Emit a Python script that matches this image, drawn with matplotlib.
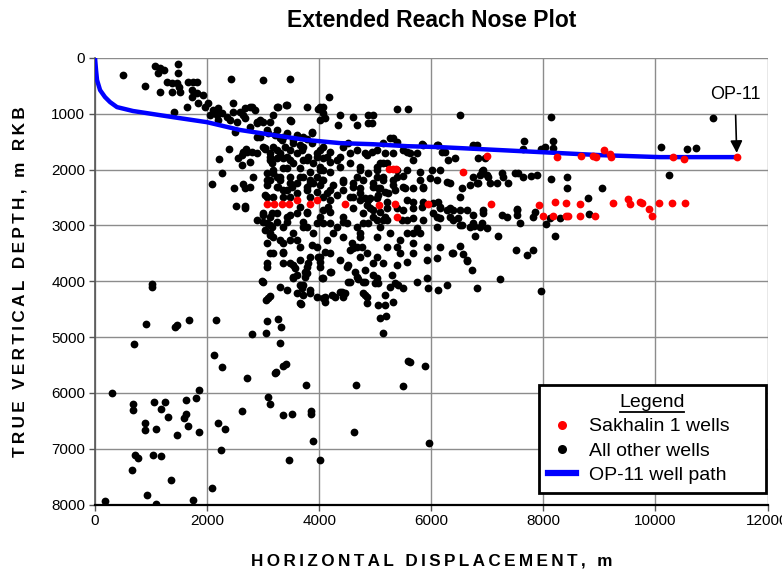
import matplotlib
matplotlib.use("Agg")
import matplotlib.pyplot as plt
from matplotlib.lines import Line2D
import numpy as np

plt.rcParams['font.family'] = ['Liberation Sans', 'DejaVu Sans']

# ---- OP-11 well path (horizontal displacement m, true vertical depth m) ----
op11_x = [0, 18, 36, 90, 178, 268, 392, 678, 1392, 1998, 2587, 3176, 3782,
          4371, 4960, 5566, 6155, 6868, 7939, 9009, 10080, 11453]
op11_y = [0, 215, 395, 575, 700, 790, 880, 950, 1060, 1150, 1290, 1380, 1470,
          1525, 1545, 1580, 1597, 1632, 1686, 1740, 1776, 1776]

# ---- Sakhalin 1 wells ----
sakhalin_upper = [(5245, 1990), (5316, 1990), (5370, 1990), (6565, 2045), (6995, 1760),
                  (8240, 1775), (8670, 1760), (8885, 1760), (8940, 1775), (9080, 1650),
                  (9190, 1720), (9205, 1775), (10310, 1775), (10510, 1810), (11450, 1775)]
sakhalin_lower = [(3070, 2620), (3195, 2620), (3335, 2620), (3460, 2620), (3605, 2550),
                  (3835, 2620), (3960, 2550), (4460, 2620), (5065, 2640), (5350, 2620),
                  (5390, 2850), (5940, 2620), (7065, 2620), (7920, 2640), (7995, 2835),
                  (8170, 2835), (8205, 2585), (8405, 2600), (8405, 2835), (8440, 2835),
                  (8650, 2620), (8650, 2835), (8920, 2835), (9240, 2600), (9510, 2530),
                  (9545, 2620), (9725, 2585), (9760, 2600), (9885, 2710), (9935, 2835),
                  (10060, 2600), (10295, 2600), (10525, 2600)]

# ---- All other wells ----
shallow_band = [
    (500, 305), (892, 502), (1070, 144), (1160, 179), (1124, 269), (1231, 215), (1481, 108),
    (1481, 269), (1284, 431), (1374, 448), (1463, 448), (1499, 520), (1160, 610), (1374, 610),
    (1516, 610), (1659, 431), (1748, 431), (1820, 431), (1730, 574), (1820, 628), (1927, 664),
    (1730, 700), (1838, 807), (1641, 879), (1962, 879), (2016, 807), (2105, 933), (2194, 897),
    (2266, 987), (2176, 1023), (2052, 1023), (2194, 1112), (2355, 1058), (2462, 807),
    (2462, 969), (2587, 969), (2676, 897), (2408, 1112), (2533, 1148), (2676, 1076),
    (1409, 969), (2426, 377), (2997, 395), (3479, 377), (2801, 879), (2854, 933), (2765, 1238),
    (2890, 1148), (2997, 1148), (3122, 1148), (3176, 1023), (3265, 879), (3407, 843),
    (3497, 1130), (3782, 879), (3978, 915), (4068, 879), (4175, 700), (4014, 1112),
    (4103, 1076), (2498, 1328), (2391, 1632), (2212, 1812), (2266, 2063), (2087, 2260),
    (2480, 2332), (2640, 2260), (2765, 2314), (2515, 2655), (2676, 2655), (2551, 1794),
    (2640, 1686), (2694, 1632), (2801, 1686), (2765, 879), (2640, 1023), (2944, 1112),
    (3425, 843), (3247, 879), (4014, 879), (3479, 1112), (4068, 987), (2890, 1166),
    (4371, 1023), (4335, 1202), (4674, 1202), (4603, 1058), (4870, 1023), (4870, 1166),
    (4960, 1023), (5388, 915), (5584, 915), (6512, 1023), (4942, 1166), (8135, 1058),
    (11025, 1076),
]

main_cluster = [
    (3033, 1632), (2890, 1417), (3086, 1345), (3247, 1292), (3300, 1435), (3122, 1776),
    (3158, 1884), (3247, 1650), (3390, 1597), (3479, 1650), (3532, 1525), (3693, 1650),
    (3871, 1328), (3782, 1453), (3604, 1381), (3711, 1417), (3800, 1776), (3960, 1776),
    (4068, 1597), (3479, 1830), (3657, 1973), (3354, 1973), (3176, 2063), (3122, 2189),
    (3247, 2135), (3479, 2135), (3604, 2243), (3711, 2135), (3836, 2243), (3960, 2135),
    (4068, 2009), (4014, 2278), (3068, 2278), (3265, 2314), (3514, 2314), (3068, 2494),
    (3479, 2494), (3836, 2494), (4068, 2494), (2997, 2817), (3158, 2781), (3479, 2817),
    (3657, 2673), (3782, 2781), (4068, 2727), (4157, 2673), (3068, 1292), (3354, 1417),
    (3871, 1345), (2944, 1417), (3176, 1597), (3033, 1615), (2712, 1686), (2622, 1740),
    (3300, 1704), (3711, 1597), (3871, 1525), (4014, 1650), (4192, 1686), (3122, 1830),
    (3354, 1794), (3532, 1884), (3711, 1830), (3889, 1884), (4068, 1794), (4192, 1866),
    (3176, 2009), (3425, 1973), (3836, 2045), (4014, 2009), (4192, 2045), (3068, 2189),
    (3300, 2189), (3479, 2243), (3889, 2243), (4068, 2189), (3354, 2368), (3604, 2422),
    (3782, 2368), (4192, 2368), (3176, 2494), (4192, 2547), (2676, 2332), (2622, 1920),
    (2765, 1866), (2676, 2691), (3211, 1381), (3336, 1471), (3425, 1345), (3532, 1471),
    (3657, 1561), (3960, 1704), (4139, 1776), (4317, 1830), (4424, 1597), (4549, 1704),
    (4674, 1650), (4817, 1704), (4942, 1686), (2997, 1597), (3122, 1704), (3247, 1794),
    (3425, 1776), (3604, 1704), (3782, 1830), (4014, 1955), (4371, 1955), (4549, 1884),
    (4728, 2009), (4870, 2063), (5031, 2009), (3068, 2063), (3300, 2135), (3657, 2135),
    (3836, 2189), (4050, 2189), (4246, 2278), (4424, 2225), (4603, 2314), (4781, 2189),
    (4960, 2314), (3247, 2314), (3425, 2368), (3782, 2314), (3960, 2404), (4139, 2422),
    (4317, 2458), (4549, 2494), (4728, 2422), (4906, 2512), (5049, 2458), (3033, 2458),
    (3354, 2494), (2997, 2781), (3122, 2852), (3247, 2781), (3425, 2852), (3604, 2781),
    (3782, 2763), (4014, 2852), (4192, 2763), (4424, 2852), (4603, 2691), (4781, 2781),
    (4960, 2852), (3122, 2996), (3354, 3032), (3711, 3032), (4068, 2960), (4496, 2960),
    (4674, 3032), (4870, 2960), (4853, 2637), (4728, 2547), (2890, 1704), (2819, 2135),
    (2890, 2906), (5316, 1435), (5388, 1507), (5138, 1525), (5834, 1543), (6101, 1561),
    (4514, 1525), (5031, 1650), (5316, 1704), (5566, 1686), (5744, 1704), (5673, 1830),
    (6190, 1686), (6298, 1830), (6422, 1794), (4853, 1740), (4371, 1776), (4728, 1955),
    (5084, 1884), (5209, 1884), (5138, 2135), (5031, 2135), (4960, 2243), (5084, 2332),
    (5227, 2422), (5388, 2135), (5495, 2117), (5316, 2278), (5495, 2314), (5673, 2332),
    (5852, 2332), (5798, 2045), (6012, 2009), (6155, 2009), (6101, 2189), (6280, 2225),
    (6333, 2243), (6512, 2494), (6690, 2278), (6744, 2135), (4728, 2332), (4817, 2512),
    (4870, 2547), (4603, 2494), (4603, 2243), (4424, 2368), (4424, 2189), (4674, 2135),
    (4906, 2691), (5209, 2691), (5388, 2691), (5495, 2727), (5673, 2691), (5834, 2673),
    (6030, 2601), (6155, 2673), (6280, 2727), (6387, 2727), (6512, 2727), (6636, 2727),
    (6744, 2960), (6512, 2996), (6387, 2906), (6155, 2870), (6030, 2781), (5566, 2906),
    (5566, 3140), (5673, 3140), (5798, 3140), (5673, 3319), (5441, 3265), (5388, 3391),
    (5263, 3140), (5138, 2906), (5084, 3032), (5031, 3211), (5209, 3391), (5441, 3498),
    (5673, 3498), (5923, 3391), (6155, 3391), (6387, 3498), (6636, 3624), (6101, 3588),
    (5923, 3624), (5566, 3660), (5138, 3678), (5031, 3570), (5388, 3714), (4728, 3211),
    (4674, 3391), (4853, 3498), (4728, 3570), (4496, 3749), (4371, 3624), (4549, 3444),
    (4424, 3211), (4246, 3140), (4317, 3032), (3068, 2960), (3122, 3140), (3068, 3319),
    (3176, 3211), (3300, 3265), (3479, 3265), (3532, 3140), (3657, 3391), (3782, 3032),
    (3889, 3140), (3960, 3391), (4014, 3570), (3836, 3570), (3657, 3624), (3354, 3498),
    (3176, 3498), (3068, 3678), (3354, 3678), (3532, 3714), (3782, 3749), (4014, 3749),
    (4139, 3265), (4103, 3480), (3158, 3032), (5263, 1435), (5174, 1704), (5495, 1650),
    (5620, 1704), (5852, 1561), (6119, 1561), (6244, 1686), (6744, 1561), (6815, 1561),
    (6833, 1794), (5031, 1955), (5138, 1884), (5388, 2009), (5566, 2009), (5138, 2189),
    (5316, 2189), (5798, 2189), (5977, 2153), (6922, 2009), (6993, 2099), (7047, 2243),
    (6815, 2243), (5049, 2332), (5174, 2404), (5352, 2368), (5530, 2332), (5852, 2314),
    (6547, 2332), (5031, 2512), (5209, 2583), (5566, 2547), (5673, 2583), (5852, 2583),
    (6119, 2583), (6155, 2691), (6333, 2691), (6744, 2817), (6922, 2781), (6101, 2852),
    (6333, 2852), (6476, 2870), (4960, 2727), (5084, 2763), (5174, 2852), (5031, 2906),
    (5209, 2906), (5477, 2906), (5673, 2870), (5852, 2906), (5744, 3050), (6101, 3032),
    (6547, 2996), (6690, 3032), (6868, 3032), (6993, 3050), (2997, 2942), (3247, 2942),
    (3425, 2942), (3711, 2942), (3960, 2960), (4192, 2960), (4424, 2942), (4781, 2960),
    (3033, 3086), (3122, 3175), (3354, 3319), (3604, 3265), (3871, 3355), (4192, 3498),
    (3978, 3570), (4014, 3660), (3354, 3480), (3122, 3498), (3068, 3749), (3479, 3678),
    (3568, 3767), (3800, 3678), (3746, 3839), (3532, 3947), (4192, 3839), (4050, 3947),
    (4585, 3319), (4728, 3140), (4763, 3391), (4603, 3409), (4514, 3714), (4638, 3839),
    (4817, 3803), (4960, 3678), (5031, 3947), (4781, 4019), (4549, 4019),
]

east_wells = [
    (7653, 1489), (7636, 1632), (7957, 1632), (8028, 1597), (8171, 1489), (8171, 1615),
    (6744, 1579), (6958, 1794), (6904, 2027), (6868, 2099), (7011, 2135), (6833, 2243),
    (7172, 2243), (7261, 2063), (7279, 2135), (7368, 2243), (7493, 2063), (7546, 2063),
    (7636, 2135), (7778, 2117), (7885, 2099), (8135, 2171), (8420, 2135), (8420, 2332),
    (9045, 2332), (8795, 2512), (8813, 2799), (6922, 2727), (7261, 2817), (7350, 2852),
    (7529, 2727), (7529, 2817), (7582, 2960), (7814, 2852), (7850, 2763), (8046, 2978),
    (8296, 2870), (8206, 3193), (7190, 3193), (6779, 3193), (6761, 3014), (6904, 2960),
    (7511, 3444), (7707, 3534), (7814, 3444), (6726, 3803), (6636, 3642), (6565, 3516),
    (6512, 3373), (6369, 3498), (7529, 2709), (8117, 2870), (7225, 3965), (7957, 4180),
    (10097, 1597), (10561, 1632), (10722, 1615), (10240, 2099),
]

deep_wells = [
    (2997, 4019), (3300, 4108), (3425, 4162), (3532, 3929), (3604, 3893), (3711, 4072),
    (3746, 3929), (3693, 4126), (3604, 4216), (3711, 4252), (3836, 4216), (3675, 4413),
    (3782, 3857), (3960, 4288), (4103, 4288), (4103, 4377), (4068, 3947), (4210, 3839),
    (4282, 4288), (4406, 4198), (4460, 4216), (4514, 4019), (4674, 3929), (4692, 3965),
    (4817, 4019), (4781, 4216), (4853, 4288), (4853, 4395), (4960, 3893), (4995, 4037),
    (5049, 4431), (5084, 4664), (5174, 4431), (5174, 4252), (5191, 4629), (5138, 4934),
    (5298, 3893), (5263, 4108), (5352, 4037), (5316, 4377), (5405, 4072), (5495, 4126),
    (5744, 4019), (5923, 3947), (5941, 4126), (6119, 4162), (6280, 4072), (6815, 4126),
    (3068, 4718), (3051, 4934), (3265, 4682), (3318, 4826), (3300, 5113), (3122, 4270),
    (3051, 4341), (3211, 5651), (3354, 5526), (3407, 5490), (3764, 5866), (4656, 5866),
    (5495, 5884), (5584, 5436), (5620, 5454), (5887, 5526), (3086, 6082), (2979, 4001),
    (3657, 4072), (3836, 4162), (4068, 4306), (4228, 4252), (4371, 4198), (4424, 4288),
    (4817, 4252), (3086, 4306), (3657, 4395), (5049, 4037),
    (1017, 4054), (1017, 4108), (910, 4772), (1427, 4826), (1463, 4790), (1677, 4700),
    (2159, 4700), (696, 5131), (2801, 4951), (2123, 5328), (2266, 5543), (2712, 5741),
    (3229, 5633), (303, 6010), (678, 6207), (678, 6315), (1053, 6171), (1249, 6171),
    (1177, 6297), (1302, 6423), (1623, 6135), (1802, 6100), (1855, 5956), (1623, 6387),
    (1588, 6441), (892, 6548), (892, 6656), (1088, 6638), (1659, 6602), (1855, 6692),
    (1463, 6763), (2194, 6548), (2319, 6638), (2622, 6333), (3122, 6207), (3354, 6405),
    (3514, 6387), (3853, 6333), (3853, 6387), (3889, 6853), (714, 7104), (767, 7158),
    (1035, 7104), (1177, 7122), (2248, 7032), (660, 7373), (1356, 7553), (3461, 7194),
    (4014, 7194), (2087, 7696), (928, 7822), (1088, 7983), (1748, 7912), (178, 7929),
    (4621, 6692), (5959, 6889),
]

x_ticks = [0, 2000, 4000, 6000, 8000, 10000, 12000]
y_ticks = [0, 1000, 2000, 3000, 4000, 5000, 6000, 7000, 8000]


def tracked(text, gap='\u2009'):
    """Letter-spaced version of a label (thin space between glyphs)."""
    return gap.join(text)


other_wells = np.array(shallow_band + main_cluster + east_wells + deep_wells, dtype=float)
sakhalin = np.array(sakhalin_upper + sakhalin_lower, dtype=float)

fig = plt.figure(figsize=(7.82, 5.73), dpi=100)
ax = fig.add_axes([0.1215, 0.1195, 0.8600, 0.7793])

ax.plot(other_wells[:, 0], other_wells[:, 1], 'o', color='black', ms=5.6,
        mec='none', zorder=3)
ax.plot(op11_x, op11_y, '-', color='#0000ff', lw=3.2, zorder=4,
        solid_capstyle='butt')
ax.plot(sakhalin[:, 0], sakhalin[:, 1], 'o', color='#ff0000', ms=5.6,
        mec='none', zorder=5)

ax.set_xlim(0, 12000)
ax.set_ylim(8000, 0)
ax.set_xticks(x_ticks)
ax.set_yticks(y_ticks)
ax.grid(True, color='#8c8c8c', lw=1.0, zorder=0)
ax.set_axisbelow(True)
for side in ('top', 'right'):
    ax.spines[side].set_visible(False)
ax.spines['left'].set_color('#555555')
ax.spines['left'].set_linewidth(1.2)
ax.spines['bottom'].set_color('black')
ax.spines['bottom'].set_linewidth(1.6)
ax.tick_params(axis='both', direction='out', length=4, width=1, color='#555555',
               labelsize=11, pad=3)

ax.set_title('Extended Reach Nose Plot', fontsize=16.5, fontweight='bold', pad=22)
ax.set_xlabel(tracked('HORIZONTAL DISPLACEMENT, m'), fontsize=12.3,
              fontweight='bold', labelpad=18)
ax.set_ylabel(tracked('TRUE VERTICAL DEPTH, m RKB'), fontsize=12.3,
              fontweight='bold', labelpad=17)

ax.annotate('OP-11', xy=(11450, 1700), xytext=(11420, 650),
            ha='center', va='center', fontsize=13,
            arrowprops=dict(arrowstyle='-|>', color='black', lw=1.2,
                            mutation_scale=18, shrinkA=7, shrinkB=0))

handles = [
    Line2D([], [], ls='none', marker='o', color='#ff0000', ms=6.5, mec='none'),
    Line2D([], [], ls='none', marker='o', color='black', ms=6.5, mec='none'),
    Line2D([], [], color='#0000ff', lw=4.5),
]
labels = ['Sakhalin 1 wells', 'All other wells', 'OP-11 well path']
leg = ax.legend(handles, labels, title='Legend', loc='lower left',
                bbox_to_anchor=(0.660, 0.026, 0.337, 0.244), mode='expand',
                fontsize=14, title_fontsize=14, fancybox=False,
                framealpha=1, edgecolor='black', borderpad=0.45,
                labelspacing=0.35, handlelength=1.45, handletextpad=0.7,
                borderaxespad=0)
leg.get_frame().set_linewidth(2)
leg.set_zorder(10)

# underline the legend title
fig.canvas.draw()
tb = leg.get_title().get_window_extent()
inv = fig.transFigure.inverted()
(x0, y0), (x1, _) = inv.transform([(tb.x0 + 1, tb.y0 - 1), (tb.x1 - 1, tb.y0 - 1)])
fig.add_artist(Line2D([x0, x1], [y0, y0], color='black', lw=1.3,
                      transform=fig.transFigure, zorder=11))

fig.savefig('out.png', dpi=100)
